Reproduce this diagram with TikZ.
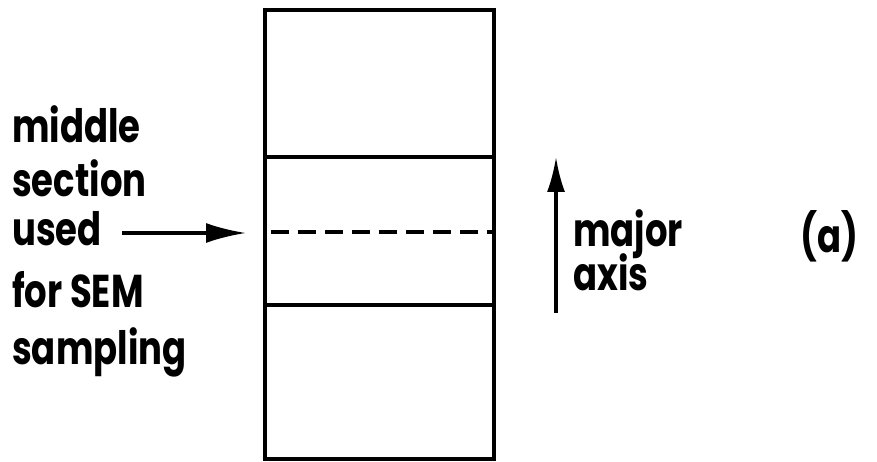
\documentclass[tikz,border=0pt]{standalone}
\usepackage{fontspec}
\setmainfont{Poppins}[FakeStretch=0.77]
\usetikzlibrary{arrows.meta}
\begin{document}
\begin{tikzpicture}[x=1pt,y=-1pt,
  lbl/.style={inner sep=0pt, anchor=base west, font=\fontsize{46}{46}\selectfont\bfseries},
  frame/.style={line width=4pt, line join=miter},
  dashline/.style={line width=4pt, dash pattern=on 18pt off 9pt},
  arr/.style={line width=3.2pt, -{Latex[length=40pt,width=20pt]}},
  axarr/.style={line width=3.2pt, -{Latex[length=35pt,width=18pt]}}]
\useasboundingbox (0,0) rectangle (877,462);
% bar
\coordinate (tl) at (265,10);
\coordinate (br) at (494,459);
\draw[frame] (tl) rectangle (br);
\coordinate (l1) at (265,157);
\coordinate (r1) at (494,157);
\coordinate (l2) at (265,305);
\coordinate (r2) at (494,305);
\coordinate (dl) at (271,232);
\coordinate (dr) at (494,232);
\draw[frame] (l1) -- (r1);
\draw[frame] (l2) -- (r2);
\draw[dashline] (dl) -- (dr);
% left labels
\node[lbl] (t1) at (12,143) {middle};
\node[lbl] (t2) at (12,197) {section};
\node[lbl] (t3) at (12,245) {used};
\node[lbl] (t4) at (12,307) {for SEM};
\node[lbl] (t5) at (12,364) {sampling};
\coordinate (as) at (122,233);
\coordinate (ae) at (246,233);
\draw[arr] (as) -- (ae);
% major axis
\coordinate (ms) at (556,313);
\coordinate (me) at (556,157);
\draw[axarr] (ms) -- (me);
\node[lbl] (m1) at (573,247) {major};
\node[lbl] (m2) at (573,290) {axis};
\node[lbl] (pa) at (800,252) {(a)};
\end{tikzpicture}
\end{document}
